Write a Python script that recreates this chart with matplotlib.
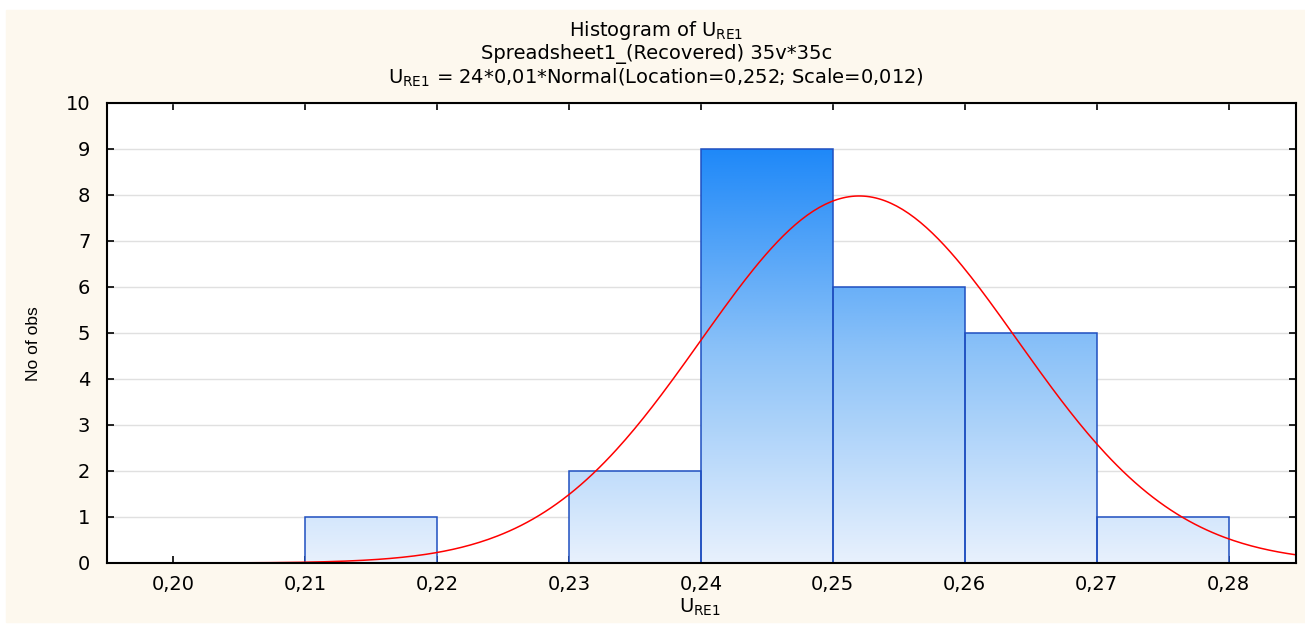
import numpy as np
import matplotlib
matplotlib.use('Agg')
from matplotlib import pyplot as plt
from matplotlib.patches import Rectangle
from matplotlib.colors import LinearSegmentedColormap

plt.rcParams['font.family'] = ['DejaVu Sans']
plt.rcParams['mathtext.fontset'] = 'custom'
plt.rcParams['mathtext.rm'] = 'DejaVu Sans'
plt.rcParams['mathtext.it'] = 'DejaVu Sans'

# histogram bins and counts
bin_edges = [0.21, 0.22, 0.23, 0.24, 0.25, 0.26, 0.27, 0.28]
counts = [1, 0, 2, 9, 6, 5, 1]
n_total = 24
bin_width = 0.01
mu = 0.252
sigma = 0.012
x_ticks = [0.20, 0.21, 0.22, 0.23, 0.24, 0.25, 0.26, 0.27, 0.28]
y_ticks = list(range(0, 11))

cream = '#fdf8ee'
fs = 14
fig = plt.figure(figsize=(13.05, 6.24), dpi=100, facecolor='white')
fig.patches.append(Rectangle((6 / 1305, 2 / 624), 1 - 6 / 1305, 612 / 624,
                             transform=fig.transFigure, color=cream, zorder=-10))

ax = fig.add_axes([107 / 1305, 61 / 624, 1189 / 1305, 460 / 624])
ax.set_xlim(0.195, 0.2851)
ax.set_ylim(0, 10)
ax.set_facecolor('white')

ax.yaxis.grid(True, color='#e0e0e0', linewidth=1)
ax.set_axisbelow(True)

# gradient fill for the bars, dark at the top, pale near zero
cmap = LinearSegmentedColormap.from_list('bars', ['#e8f1fd', '#8cc2f8', '#1a86f8'])
grad = np.linspace(0, 1, 256).reshape(-1, 1)
for left, right, c in zip(bin_edges[:-1], bin_edges[1:], counts):
    if c == 0:
        continue
    im = ax.imshow(grad, cmap=cmap, extent=[left, right, 0, 9.2], origin='lower',
                   aspect='auto', zorder=2, interpolation='bilinear')
    rect = Rectangle((left, 0), right - left, c, facecolor='none',
                     edgecolor='#1f4fc0', linewidth=1.1, zorder=3)
    ax.add_patch(rect)
    im.set_clip_path(rect)

xs = np.linspace(0.195, 0.2851, 400)
pdf = n_total * bin_width * np.exp(-0.5 * ((xs - mu) / sigma) ** 2) / (sigma * np.sqrt(2 * np.pi))
ax.plot(xs, pdf, color='red', linewidth=1.1, zorder=4)

ax.set_xticks(x_ticks)
ax.set_xticklabels([f'{v:.2f}'.replace('.', ',') for v in x_ticks])
ax.set_yticks(y_ticks)
ax.tick_params(direction='in', length=5, width=1.2, labelsize=fs,
               top=True, right=True)
ax.tick_params(axis='x', pad=9)
ax.tick_params(axis='y', pad=12)
for s in ax.spines.values():
    s.set_linewidth(1.5)
    s.set_zorder(5)

fig.text(0.503, 1 - 30 / 624, r'Histogram of $\mathregular{U_{RE1}}$', ha='center', va='center', fontsize=fs)
fig.text(0.503, 1 - 54 / 624, 'Spreadsheet1_(Recovered) 35v*35c', ha='center', va='center', fontsize=fs)
fig.text(0.503, 1 - 78 / 624,
         r'$\mathregular{U_{RE1}}$ = 24*0,01*Normal(Location=0,252; Scale=0,012)',
         ha='center', va='center', fontsize=fs)

fig.text(700 / 1305, 1 - 607 / 624, r'$\mathregular{U_{RE1}}$', ha='center', va='center', fontsize=fs)
fig.text(33 / 1305, 1 - 344 / 624, 'No of obs', ha='center', va='center', rotation=90,
         fontsize=12.5, family=['Liberation Sans Narrow', 'Liberation Sans', 'DejaVu Sans'])

fig.savefig('out.png', dpi=100, facecolor=fig.get_facecolor())
